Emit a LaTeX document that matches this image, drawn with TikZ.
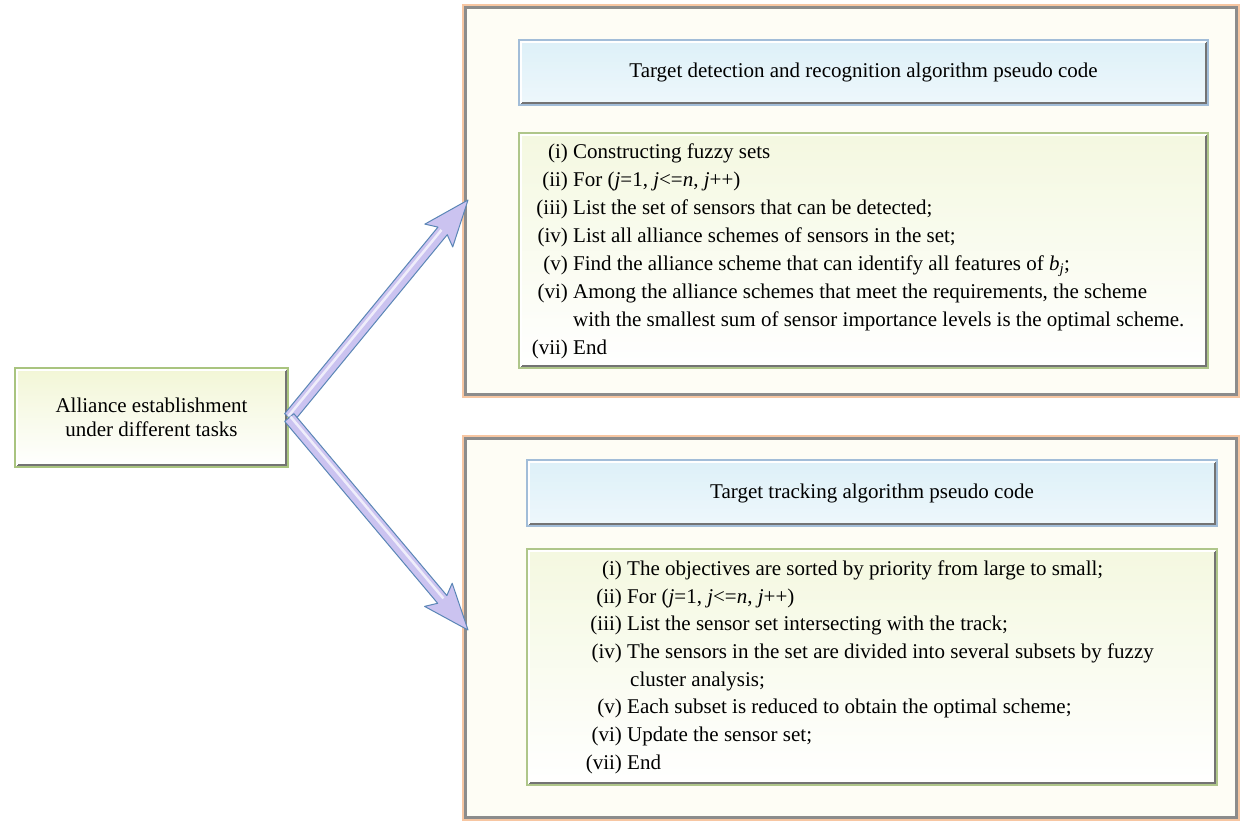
\documentclass[tikz,border=0pt]{standalone}
\usepackage{fontspec}
\setmainfont{Liberation Serif}
\usetikzlibrary{calc}

\definecolor{peach}{HTML}{F7C6A2}
\definecolor{ivory}{HTML}{FEFDF5}
\definecolor{taskline}{HTML}{A9C47F}
\definecolor{taskfill}{HTML}{F2F6D6}
\definecolor{headline}{HTML}{A2BDD8}
\definecolor{headtop}{HTML}{DDF0F8}
\definecolor{bodyline}{HTML}{AFC68A}
\definecolor{bodytop}{HTML}{F4F8E0}
\definecolor{arrowline}{HTML}{5A86B6}
\definecolor{arrowfill}{HTML}{CBC3F0}

\tikzset{
  panel/.style={draw=#1, line width=2.5pt, inner sep=0pt},
  frame/.style={panel=peach, fill=ivory},
  taskbox/.style={panel=taskline, top color=taskfill, bottom color=white},
  headbox/.style={panel=headline, top color=headtop, bottom color=headtop!50!white},
  bodybox/.style={panel=bodyline, top color=bodytop, bottom color=white},
  bevel/.style={draw=black!55, line width=2pt},
  shine/.style={draw=white, line width=2pt},
  rim/.style={draw=black!45, line width=2.5pt},
  fatarrow/.style={draw=arrowline, fill=arrowfill, line width=1pt, line join=round},
  steptext/.style={anchor=base west, inner sep=0pt},
}

% raised look: dark edge right and below, light edge left and above
\newcommand{\raised}[1]{%
  \draw[bevel] ([xshift=-3.5pt,yshift=-3.5pt]#1.north east) -- ([xshift=-3.5pt,yshift=3.5pt]#1.south east) -- ([xshift=3.5pt,yshift=3.5pt]#1.south west);
  \draw[shine] ([xshift=3.5pt,yshift=3.5pt]#1.south west) -- ([xshift=3.5pt,yshift=-3.5pt]#1.north west) -- ([xshift=-3.5pt,yshift=-3.5pt]#1.north east);
}
% broad arrow from #1 to #2
\newcommand{\bigarrow}[2]{%
  \coordinate (neck) at ($(#2)!40pt!(#1)$);
  \coordinate (barb) at ($(#2)!46pt!(#1)$);
  \filldraw[fatarrow] ($(#1)!6pt!90:(#2)$) -- ($(neck)!6pt!90:(#2)$) -- ($(barb)!18pt!90:(#2)$)
    -- (#2) -- ($(barb)!18pt!-90:(#2)$) -- ($(neck)!6pt!-90:(#2)$) -- ($(#1)!6pt!-90:(#2)$) -- cycle;
  \draw[white, line width=2.5pt, opacity=.7] ($(#1)!1.5pt!90:(#2)$) -- ($(neck)!1.5pt!90:(#2)$);
}

\begin{document}
\begin{tikzpicture}[x=1pt, y=-1pt, font=\fontsize{21}{24}\selectfont]
  \useasboundingbox[fill=white] (0,0) rectangle (1242,823);

  \node (task) [taskbox, minimum width=273pt, minimum height=99pt, align=center] at (151.5,417.5) {Alliance establishment\\under different tasks};

  \node (detframe) [frame, minimum width=776pt, minimum height=392pt] at (851,201) {};
  \node (dethead) [headbox, minimum width=689pt, minimum height=65pt] at (863.5,72.5) {Target detection and recognition algorithm pseudo code};
  \node (detbody) [bodybox, minimum width=689pt, minimum height=235pt] at (863.5,250.5) {};

  \node (trkframe) [frame, minimum width=776pt, minimum height=384pt] at (851,628) {};
  \node (trkhead) [headbox, minimum width=690pt, minimum height=66pt] at (872,493) {Target tracking algorithm pseudo code};
  \node (trkbody) [bodybox, minimum width=690pt, minimum height=236pt] at (872,667) {};

  \draw[rim] ([xshift=3.75pt,yshift=-3.75pt]detframe.north west) rectangle ([xshift=-3.75pt,yshift=3.75pt]detframe.south east);
  \draw[rim] ([xshift=3.75pt,yshift=-3.75pt]trkframe.north west) rectangle ([xshift=-3.75pt,yshift=3.75pt]trkframe.south east);
  \raised{task}
  \raised{dethead}
  \raised{detbody}
  \raised{trkhead}
  \raised{trkbody}

  % detection steps
  \node (det1) [steptext] at (573,158) {\llap{(i)\ }Constructing fuzzy sets};
  \node (det2) [steptext] at (573,186) {\llap{(ii)\ }For (\textit{j}=1, \textit{j}<=\textit{n}, \textit{j}++)};
  \node (det3) [steptext] at (573,214) {\llap{(iii)\ }List the set of sensors that can be detected;};
  \node (det4) [steptext] at (573,242) {\llap{(iv)\ }List all alliance schemes of sensors in the set;};
  \node (det5) [steptext] at (573,270) {\llap{(v)\ }Find the alliance scheme that can identify all features of \textit{b}\textsubscript{\textit{j}};};
  \node (det6) [steptext] at (573,298) {\llap{(vi)\ }Among the alliance schemes that meet the requirements, the scheme};
  \node (det7) [steptext] at (573,326) {with the smallest sum of sensor importance levels is the optimal scheme.};
  \node (det8) [steptext] at (573,354) {\llap{(vii)\ }End};

  % tracking steps
  \node (trk1) [steptext] at (627,575) {\llap{(i)\ }The objectives are sorted by priority from large to small;};
  \node (trk2) [steptext] at (627,603) {\llap{(ii)\ }For (\textit{j}=1, \textit{j}<=\textit{n}, \textit{j}++)};
  \node (trk3) [steptext] at (627,630) {\llap{(iii)\ }List the sensor set intersecting with the track;};
  \node (trk4) [steptext] at (627,658) {\llap{(iv)\ }The sensors in the set are divided into several subsets by fuzzy};
  \node (trk5) [steptext] at (630,686) {cluster analysis;};
  \node (trk6) [steptext] at (627,713) {\llap{(v)\ }Each subset is reduced to obtain the optimal scheme;};
  \node (trk7) [steptext] at (627,741) {\llap{(vi)\ }Update the sensor set;};
  \node (trk8) [steptext] at (627,769) {\llap{(vii)\ }End};

  \coordinate (uptip) at (468,200);
  \coordinate (downtip) at (468,630);
  \bigarrow{task.east}{uptip}
  \bigarrow{task.east}{downtip}
\end{tikzpicture}
\end{document}
